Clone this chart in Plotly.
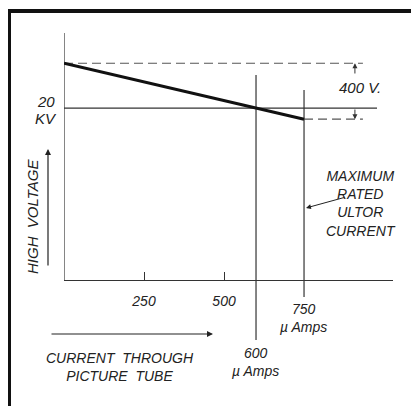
import plotly.graph_objects as go

# current through picture tube (micro amps) vs high voltage (volts)
current = [0, 750]
voltage = [20320, 19920]
ref_kv = 20000
rated_current = 750
op_current = 600
tick_vals = [250, 500]
tick_text = ['250', '500']

# the page body adds an 8px margin, so the figure is drawn 8px smaller
OFF = 8
W, H = 419 - OFF, 406 - OFF
L, R, T, B = 64 - OFF, 26, 33 - OFF, 61
x_range = [0, 1028]
y_range = [18307, 20536]

# page pixel -> paper helpers for labels sitting outside the plot area
def px(x):
    return (x - OFF - L) / (W - L - R)

def py(y):
    return (H - B - (y - OFF)) / (H - T - B)

font = dict(family='Liberation Sans, Arial', size=14, color='#222', style='italic')
ink = '#333'

def label(x, y, text, **kw):
    d = dict(x=px(x), y=py(y), xref='paper', yref='paper', text=text, showarrow=False,
             xanchor='center', yanchor='middle', font=font)
    d.update(kw)
    return d

def arrow(x, y, ax, ay, width=1.2):
    return dict(x=px(x), y=py(y), xref='paper', yref='paper', ax=ax, ay=ay, text='',
                showarrow=True, arrowhead=2, arrowsize=1, arrowwidth=width, arrowcolor='#222')

fig = go.Figure()

# y axis line
fig.add_trace(go.Scatter(x=[0, 0], y=[18771, y_range[1]], mode='lines',
                         line=dict(color=ink, width=1.2), hoverinfo='skip'))
# 20 KV reference line
fig.add_trace(go.Scatter(x=[0, 978], y=[ref_kv, ref_kv], mode='lines',
                         line=dict(color=ink, width=1.2), hoverinfo='skip'))
# dashed levels
fig.add_trace(go.Scatter(x=[0, 934], y=[voltage[0], voltage[0]], mode='lines',
                         line=dict(color='#555', width=1.2, dash='9px,5px'), hoverinfo='skip'))
fig.add_trace(go.Scatter(x=[rated_current, 934], y=[voltage[1], voltage[1]], mode='lines',
                         line=dict(color='#555', width=1.2, dash='9px,5px'), hoverinfo='skip'))
# vertical markers at 600 and 750
fig.add_trace(go.Scatter(x=[op_current, op_current], y=[20236, 18343], mode='lines',
                         line=dict(color=ink, width=1.2), hoverinfo='skip'))
fig.add_trace(go.Scatter(x=[rated_current, rated_current], y=[20129, 18650], mode='lines',
                         line=dict(color=ink, width=1.2), hoverinfo='skip'))
# regulation curve
fig.add_trace(go.Scatter(x=current, y=voltage, mode='lines',
                         line=dict(color='#111', width=3.2), hoverinfo='skip'))

ann = []
# 400 V dimension arrows
ann.append(dict(x=909, y=voltage[0], ax=909, ay=20236, xref='x', yref='y', axref='x', ayref='y',
                text='', showarrow=True, arrowhead=2, arrowsize=1, arrowwidth=1, arrowcolor=ink))
ann.append(dict(x=909, y=voltage[1], ax=909, ay=ref_kv, xref='x', yref='y', axref='x', ayref='y',
                text='', showarrow=True, arrowhead=2, arrowsize=1, arrowwidth=1, arrowcolor=ink))
ann.append(dict(x=925, y=20150, xref='x', yref='y', text='400 V.', showarrow=False,
                xanchor='center', yanchor='middle', font=dict(font, size=15)))

# outside labels
ann.append(label(46, 101, '20', font=dict(font, size=15)))
ann.append(label(46, 118, 'KV', font=dict(font, size=15)))
ann.append(label(32, 217, 'HIGH  VOLTAGE', textangle=-90, font=dict(font, size=15)))
ann.append(arrow(48, 149, 0, 118))
ann.append(label(361, 203, 'MAXIMUM<br>RATED<br>ULTOR<br>CURRENT'))
ann.append(arrow(306, 208, 40, -11, width=1))
ann.append(label(303, 318, '750<br>\u00b5 Amps'))
ann.append(label(255, 362, '600<br>\u00b5 Amps'))
ann.append(arrow(213, 334, -163, 0))
ann.append(label(120, 367, 'CURRENT  THROUGH<br>PICTURE  TUBE'))

# scan frame (thick left and top border)
shapes = [
    dict(type='rect', xref='paper', yref='paper', x0=px(5), x1=px(11), y0=py(410), y1=py(9),
         fillcolor='#111', line=dict(width=0)),
    dict(type='rect', xref='paper', yref='paper', x0=px(5), x1=px(425), y0=py(13), y1=py(9),
         fillcolor='#111', line=dict(width=0)),
]

fig.update_layout(
    width=W, height=H,
    margin=dict(l=L, r=R, t=T, b=B),
    plot_bgcolor='white',
    paper_bgcolor='white',
    showlegend=False,
    annotations=ann,
    shapes=shapes,
    xaxis=dict(range=x_range, anchor='free', position=py(280), showline=True,
               linecolor=ink, linewidth=1.2, showgrid=False, zeroline=False,
               ticks='inside', ticklen=8, tickcolor=ink, tickvals=tick_vals,
               ticktext=tick_text, tickfont=font, ticklabelstandoff=8),
    yaxis=dict(range=y_range, visible=False),
)

fig.write_html("out.html")
